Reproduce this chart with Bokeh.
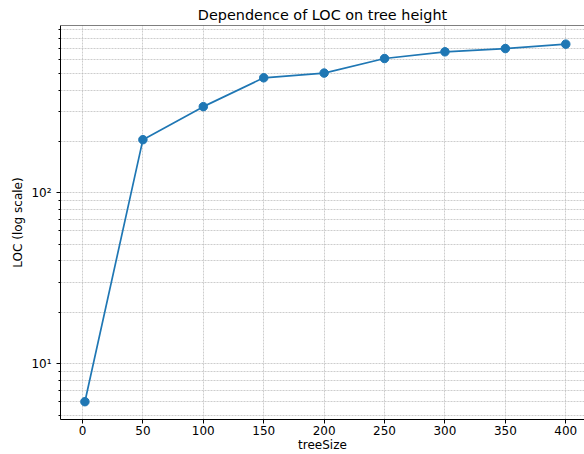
from bokeh.plotting import figure
from bokeh.models import FixedTicker, CustomJSTickFormatter, Range1d, Span
from bokeh.embed import file_html
from bokeh.resources import INLINE

# ---- data ----
tree_size = [2, 50, 100, 150, 200, 250, 300, 350, 400]
loc_values = [6, 205, 320, 472, 503, 612, 670, 700, 743]

x_ticks = [0, 50, 100, 150, 200, 250, 300, 350, 400]
y_major_ticks = [10, 100]
y_minor_ticks = [5, 6, 7, 8, 9, 20, 30, 40, 50, 60, 70, 80, 90,
                 200, 300, 400, 500, 600, 700, 800, 900]

title_text = "Dependence of LOC on tree height"
x_label = "treeSize"
y_label = "LOC (log scale)"

FONT = "DejaVu Sans"
BLUE = "#1f77b4"
GRID = "#b8b8b8"
Y_TOP = 955

p = figure(width=584, height=454, y_axis_type="log",
           x_range=Range1d(-18.2, 415.5), y_range=Range1d(4.72, Y_TOP),
           output_backend="svg", toolbar_location=None,
           min_border_left=60, min_border_right=0,
           min_border_top=25, min_border_bottom=35)

p.title.text = title_text
p.title.align = "center"
p.title.offset = 3
p.title.text_font = FONT
p.title.text_font_size = "14.4px"
p.title.text_font_style = "normal"
p.title.text_color = "#000000"
p.title.standoff = 5

p.outline_line_color = None
p.background_fill_color = "white"
p.border_fill_color = "white"

# axes
for ax in (p.xaxis[0], p.yaxis[0]):
    ax.axis_line_color = "#000000"
    ax.axis_line_width = 1
    ax.major_tick_line_color = "#000000"
    ax.major_tick_in = 0
    ax.major_tick_out = 4
    ax.minor_tick_in = 0
    ax.minor_tick_out = 2
    ax.major_label_text_font = FONT
    ax.major_label_text_font_size = "12px"
    ax.major_label_text_color = "#000000"
    ax.axis_label_text_font = FONT
    ax.axis_label_text_font_size = "12px"
    ax.axis_label_text_font_style = "normal"
    ax.axis_label_text_color = "#000000"

xt = FixedTicker(ticks=x_ticks)
p.xaxis.ticker = xt
p.xgrid.ticker = xt
p.xaxis.minor_tick_line_color = None
p.xaxis.major_label_standoff = 2
p.xaxis.axis_label = x_label
p.xaxis.axis_label_standoff = 0

yt = FixedTicker(ticks=y_major_ticks, minor_ticks=y_minor_ticks)
p.yaxis.ticker = yt
p.ygrid.ticker = yt
p.yaxis.minor_tick_line_color = "#000000"
p.yaxis.major_label_standoff = 5
p.yaxis.axis_label = y_label
p.yaxis.axis_label_standoff = 3
p.yaxis.formatter = CustomJSTickFormatter(code="""
    const sup = {"0":"\u2070","1":"\u00b9","2":"\u00b2","3":"\u00b3","4":"\u2074",
                 "5":"\u2075","6":"\u2076","7":"\u2077","8":"\u2078","9":"\u2079","-":"\u207b"};
    const e = String(Math.round(Math.log10(tick)));
    return "10" + e.split("").map(c => sup[c]).join("");
""")

# grids (dashed, major and minor)
for g in (p.xgrid[0], p.ygrid[0]):
    g.grid_line_color = GRID
    g.grid_line_width = 0.7
    g.grid_line_dash = "2 1"
p.ygrid.minor_grid_line_color = GRID
p.ygrid.minor_grid_line_width = 0.7
p.ygrid.minor_grid_line_dash = "2 1"

# top spine
p.add_layout(Span(location=Y_TOP, dimension="width", line_color="#000000", line_width=1))

p.line(tree_size, loc_values, line_color=BLUE, line_width=1.7)
p.scatter(tree_size, loc_values, size=8.5, fill_color=BLUE, line_color=BLUE)

open("out.html", "w").write(file_html(p, INLINE))
